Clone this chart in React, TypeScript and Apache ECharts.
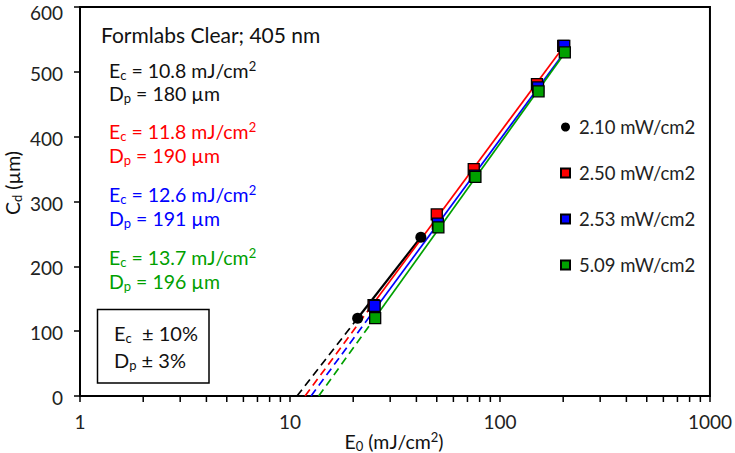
import React, { useEffect, useRef } from "react";
import * as echarts from "echarts";

// ---- data ----
const seriesNames = ["2.10 mW/cm2", "2.50 mW/cm2", "2.53 mW/cm2", "5.09 mW/cm2"];
const seriesColors = ["#000000", "#FF0000", "#0000FF", "#00A000"];

const e0Black = [21, 42];
const cdBlack = [120, 245];
const e0Red = [25, 50, 75, 150, 200];
const cdRed = [140, 280, 350, 481, 540];
const e0Blue = [25.3, 50.6, 75.9, 151.8, 202.4];
const cdBlue = [139, 266, 340, 476, 540];
const e0Green = [25.45, 50.9, 76.4, 152.7, 203.6];
const cdGreen = [120, 260, 338, 470, 530];

// working-curve fit parameters (as printed on the chart)
const ecValues = ["10.8", "11.8", "12.6", "13.7"];
const dpValues = ["180", "190", "191", "196"];

// trend line end points (E0, Cd): [Ec at Cd=0, first measured E0, last measured E0]
const trendBlack = [[10.8, 0], [21, 120], [42, 245]];
const trendRed = [[11.8, 0], [25, 143], [200, 538]];
const trendBlue = [[12.6, 0], [25.3, 133], [202.4, 530]];
const trendGreen = [[13.7, 0], [25.45, 121], [203.6, 529]];

const minorTickValues = [2, 3, 4, 5, 6, 7, 8, 9, 20, 30, 40, 50, 60, 70, 80, 90, 200, 300, 400, 500, 600, 700, 800, 900];
const xTicks = [1, 10, 100, 1000];
const yMax = 600;

const FONT = "Lato, 'Noto Sans', sans-serif";

function zip(xs: number[], ys: number[]) {
  return xs.map((x, i) => [x, ys[i]]);
}

function richFor(color: string, size: number) {
  const s = Math.round(size * 0.66);
  return {
    m: { fontSize: size, fontFamily: FONT, fill: color },
    sub: { fontSize: s, fontFamily: FONT, fill: color, padding: [10, 0, 0, 0] },
    sup: { fontSize: s, fontFamily: FONT, fill: color, padding: [0, 0, 9, 0] },
  };
}

function textEl(x: number, y: number, text: string, color: string, size: number, extra: any = {}) {
  return {
    type: "text",
    x,
    y,
    silent: true,
    ...extra,
    style: {
      text,
      rich: richFor(color, size),
      fontFamily: FONT,
      fontSize: size,
      fill: color,
      verticalAlign: "middle",
      align: extra.align || "left",
    },
  };
}

export default function App() {
  const ref = useRef<HTMLDivElement>(null);

  useEffect(() => {
    if (!ref.current) return;
    const chart = echarts.init(ref.current, null, { renderer: "svg" });

    const trends = [trendBlack, trendRed, trendBlue, trendGreen];
    const points = [zip(e0Black, cdBlack), zip(e0Red, cdRed), zip(e0Blue, cdBlue), zip(e0Green, cdGreen)];

    const trendSeries: any[] = [];
    trends.forEach((t, i) => {
      trendSeries.push({
        type: "line",
        name: "dash" + i,
        data: [t[0], t[1]],
        showSymbol: false,
        silent: true,
        lineStyle: { color: seriesColors[i], width: 1.7, type: [8, 5] },
        z: 2,
      });
      trendSeries.push({
        type: "line",
        name: "fit" + i,
        data: [t[1], t[2]],
        showSymbol: false,
        silent: true,
        lineStyle: { color: seriesColors[i], width: i === 0 ? 2.2 : 1.7 },
        z: 2,
      });
    });

    const pointSeries = points.map((d, i) => ({
      type: "scatter",
      name: seriesNames[i],
      data: d,
      symbol: i === 0 ? "circle" : "rect",
      symbolSize: 11,
      itemStyle: {
        color: seriesColors[i],
        borderColor: "#000",
        borderWidth: i === 0 ? 0 : 1.3,
        opacity: 1,
      },
      z: 3 + i,
    }));

    const minorTickSeries = {
      type: "custom",
      name: "minorTicks",
      silent: true,
      clip: false,
      data: minorTickValues.map((v) => [v, 0]),
      renderItem: (params: any, api: any) => {
        const p = api.coord([api.value(0), 0]);
        return {
          type: "line",
          shape: { x1: p[0], y1: p[1], x2: p[0], y2: p[1] + 6 },
          style: { stroke: "#000", lineWidth: 1.5 },
        };
      },
      z: 1,
    };

    const axisFont = { fontFamily: FONT, fontSize: 19, color: "#222" };

    const graphics: any[] = [
      textEl(101, 34, "Formlabs Clear; 405 nm", "#111", 21),
    ];
    const ecY = [70, 131, 194, 257];
    const dpY = [93, 155, 218, 281];
    ecValues.forEach((ec, i) => {
      const c = i === 0 ? "#111" : seriesColors[i];
      graphics.push(textEl(109, ecY[i], `{m|E}{sub|c}{m| = ${ec} mJ/cm}{sup|2}`, c, 19.5));
      graphics.push(textEl(109, dpY[i], `{m|D}{sub|p}{m| = ${dpValues[i]} µm}`, c, 19.5));
    });
    graphics.push({
      type: "rect",
      silent: true,
      shape: { x: 97.5, y: 309.5, width: 111.5, height: 73.5 },
      style: { fill: "#fff", stroke: "#000", lineWidth: 1.5 },
    });
    graphics.push(textEl(114, 333, "{m|E}{sub|c}{m|  ± 10%}", "#111", 20, { z: 10 }));
    graphics.push(textEl(114, 360, "{m|D}{sub|p}{m| ± 3%}", "#111", 20, { z: 10 }));
    // axis titles
    graphics.push(textEl(394, 441, "{m|E}{sub|0}{m| (mJ/cm}{sup|2}{m|)}", "#111", 19.5, { align: "center" }));
    graphics.push(textEl(12, 183, "{m|C}{sub|d}{m| (µm)}", "#111", 19.5, { align: "center", rotation: Math.PI / 2 }));

    chart.setOption({
      animation: false,
      backgroundColor: "#fff",
      grid: {
        left: 80,
        right: 23,
        top: 7,
        bottom: 57,
        show: true,
        borderColor: "#000",
        borderWidth: 2,
        backgroundColor: "transparent",
      },
      legend: {
        data: seriesNames,
        orient: "vertical",
        left: 555,
        top: 112,
        itemWidth: 9,
        itemHeight: 9,
        itemGap: 26,
        textStyle: { fontFamily: FONT, fontSize: 18.5, color: "#222", lineHeight: 20, padding: [0, 0, 0, 4] },
        selectedMode: false,
      },
      xAxis: {
        type: "log",
        logBase: 10,
        min: xTicks[0],
        max: xTicks[xTicks.length - 1],
        axisLine: { lineStyle: { color: "#000", width: 2 } },
        axisTick: { show: true, inside: false, length: 6, lineStyle: { color: "#000", width: 1.5 } },
        axisLabel: { ...axisFont, margin: 16, formatter: (v: number) => String(Math.round(v)) },
        splitLine: { show: false },
        minorTick: { show: false },
      },
      yAxis: {
        type: "value",
        min: 0,
        max: yMax,
        interval: 100,
        axisLine: { show: true, lineStyle: { color: "#000", width: 2 } },
        axisTick: { show: true, inside: false, length: 6, lineStyle: { color: "#000", width: 1.5 } },
        axisLabel: {
          ...axisFont,
          margin: 17,
          formatter: (v: number) => (v === yMax ? `{top|${v}}` : `{n|${v}}`),
          rich: {
            top: { ...axisFont, padding: [10, 0, 0, 0] },
            n: { ...axisFont, padding: [3, 0, 0, 0] },
          },
        },
        splitLine: { show: false },
      },
      graphic: graphics,
      series: [...trendSeries, ...pointSeries, minorTickSeries],
    });

    return () => chart.dispose();
  }, []);

  return <div ref={ref} style={{ width: 735, height: 453, position: "absolute", left: 0, top: 0 }} />;
}
